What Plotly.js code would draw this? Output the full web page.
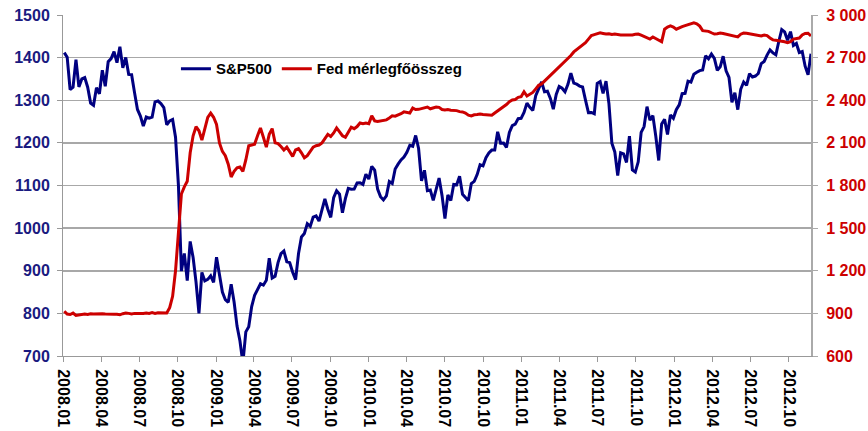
<!DOCTYPE html>
<html>
<head>
<meta charset="utf-8">
<script src="https://cdn.plot.ly/plotly-3.0.1.min.js"></script>
<style>html,body{margin:0;padding:0;background:#fff;}#chart{width:868px;height:431px;}</style>
</head>
<body>
<div id="chart"></div>
<script>
// Weekly observations (Fridays), first week and number of weeks
const firstWeek = '2008-01-04';
const weekCount = 256;

// S&P500 weekly values, by year
const sp2008 = [1411.6,1401.0,1325.2,1330.6,1395.4,1331.3,1350.0,1353.1,1330.6,1293.4,1288.1,1329.5,1315.2,1370.4,1332.8,1390.3,1397.8,1413.9,1388.3,1425.4,1375.9,1400.4,1360.7,1360.0,1317.9,1278.4,1262.9,1239.5,1260.7,1257.8,1260.3,1296.3,1298.2,1292.2,1282.8,1242.3,1251.7,1255.1,1213.3,1099.2,899.2,940.6,876.8,968.8,931.0,873.3,800.0,896.2,876.1,879.7,887.9,872.8];
const sp2009 = [931.8,890.4,850.1,832.0,825.9,868.6,826.8,770.1,735.1,683.4,756.6,768.5,815.9,842.5,856.6,869.6,866.2,877.5,929.2,882.9,887.0,919.1,940.1,946.2,921.2,918.9,896.4,879.1,940.4,979.3,987.5,1010.5,1004.1,1026.1,1028.9,1016.4,1042.7,1068.3,1044.4,1025.2,1071.5,1087.7,1079.6,1036.2,1069.3,1093.5,1091.4,1091.5,1106.0,1106.4,1102.5,1126.5];
const sp2010 = [1115.1,1145.0,1136.0,1091.8,1073.9,1066.2,1075.5,1109.2,1104.5,1138.7,1150.0,1159.9,1166.6,1178.1,1194.4,1192.1,1217.3,1186.7,1110.9,1135.7,1087.7,1089.4,1064.9,1091.6,1117.5,1076.8,1022.6,1078.0,1064.9,1102.7,1101.6,1121.6,1079.3,1071.7,1064.6,1104.5,1109.6,1125.6,1148.7,1146.2,1165.2,1176.2,1183.1,1183.3,1225.9,1199.2,1199.7,1189.4,1224.7,1240.4,1243.9,1256.8,1257.6];
const sp2011 = [1271.5,1293.2,1283.4,1276.3,1310.9,1329.2,1343.0,1319.9,1321.2,1304.3,1279.2,1313.8,1332.4,1328.2,1319.7,1337.4,1363.6,1340.2,1337.8,1333.3,1331.1,1300.2,1271.0,1271.5,1268.5,1339.7,1343.8,1316.1,1345.0,1292.3,1199.4,1178.8,1123.5,1176.8,1174.0,1154.2,1216.0,1136.4,1131.4,1155.5,1224.6,1238.3,1285.1,1253.2,1263.9,1215.7,1158.7,1244.3,1255.2,1219.7,1265.3,1257.6];
const sp2012 = [1277.8,1289.1,1315.4,1316.3,1344.9,1342.6,1361.2,1365.7,1369.6,1370.9,1404.2,1397.1,1408.5,1398.1,1370.3,1378.5,1403.4,1369.1,1353.4,1295.2,1317.8,1278.0,1325.7,1342.8,1335.0,1362.2,1354.7,1356.8,1362.7,1386.0,1391.0,1405.9,1418.2,1411.1,1406.6,1437.9,1465.8,1460.2,1440.7,1460.9,1428.6,1433.2,1411.9,1414.2,1379.9,1359.9,1409.2];

// Fed balance sheet total (mrd USD) weekly values, by year
const fed2008 = [915,895,892,902,885,890,893,895,893,897,895,897,894,897,895,893,895,893,894,890,898,902,900,896,900,898,901,899,903,900,905,900,904,902,905,902,940,1020,1200,1480,1740,1790,1830,2030,2150,2214,2185,2120,2200,2280,2310,2280];
const fed2009 = [2230,2100,2040,2010,1950,1860,1900,1925,1930,1900,1980,2080,2085,2090,2150,2205,2140,2070,2160,2200,2100,2095,2075,2050,2070,2040,2005,2050,2060,2030,1995,2010,2040,2070,2080,2085,2100,2130,2160,2145,2170,2205,2180,2150,2140,2180,2210,2200,2215,2240,2235,2240];
const fed2010 = [2235,2290,2255,2250,2255,2260,2262,2275,2290,2288,2295,2305,2318,2312,2310,2345,2335,2336,2340,2345,2352,2340,2345,2352,2350,2335,2332,2334,2330,2330,2327,2320,2318,2310,2295,2290,2298,2300,2303,2300,2298,2296,2294,2310,2325,2340,2352,2370,2390,2402,2405,2420,2425];
const fed2011 = [2460,2430,2440,2455,2480,2505,2515,2535,2557,2575,2595,2612,2630,2650,2675,2695,2715,2740,2755,2770,2790,2805,2830,2855,2862,2868,2874,2870,2866,2868,2863,2866,2862,2860,2860,2859,2862,2860,2865,2866,2858,2850,2840,2831,2845,2835,2825,2812,2900,2915,2923,2915];
const fed2012 = [2900,2912,2918,2925,2930,2940,2945,2938,2922,2890,2888,2885,2875,2866,2868,2873,2870,2866,2862,2858,2852,2846,2865,2873,2872,2868,2866,2864,2858,2852,2859,2855,2838,2825,2822,2820,2817,2812,2805,2812,2830,2835,2838,2860,2870,2872,2852];

const leftTicks = {min: 700, max: 1500, step: 100};
const rightTicks = {min: 600, max: 3000, step: 300};
const seriesNames = ['S&P500', 'Fed mérlegfőösszeg'];

const spValues = [].concat(sp2008, sp2009, sp2010, sp2011, sp2012);
const fedValues = [].concat(fed2008, fed2009, fed2010, fed2011, fed2012);

const dates = [];
const d0 = new Date(firstWeek + 'T00:00:00Z');
for (let i = 0; i < weekCount; i++) {
  const d = new Date(d0.getTime() + i * 7 * 86400000);
  dates.push(d.toISOString().slice(0, 10));
}

const FONT = '"Liberation Sans", Arial, sans-serif';
const NAVY = '#000080';
const RED = '#cc0000';

const traces = [
  {x: dates, y: spValues, name: seriesNames[0], type: 'scatter', mode: 'lines',
   line: {color: NAVY, width: 3}, yaxis: 'y'},
  {x: dates, y: fedValues, name: seriesNames[1], type: 'scatter', mode: 'lines',
   line: {color: RED, width: 3}, yaxis: 'y2'}
];

const layout = {
  width: 868, height: 431,
  margin: {l: 63, r: 57, t: 15, b: 75, pad: 0},
  paper_bgcolor: '#ffffff', plot_bgcolor: '#ffffff',
  separators: '. ',
  font: {family: FONT, size: 16, color: '#000', weight: 'bold'},
  showlegend: true,
  legend: {orientation: 'h', x: 0.151, y: 0.842, xanchor: 'left', yanchor: 'middle',
           bgcolor: 'rgba(0,0,0,0)', font: {family: FONT, size: 15, color: '#000', weight: 'bold'},
           itemwidth: 30, tracegroupgap: 0},
  xaxis: {type: 'date', range: ['2008-01-01', '2012-11-23'], tick0: '2008-01-01', dtick: 'M3',
          tickformat: '%Y.%m', tickangle: 90, ticks: 'outside', ticklen: 5, tickcolor: '#999',
          showgrid: false, showline: true, linecolor: '#999', linewidth: 1, zeroline: false,
          ticklabelstandoff: 4,
          tickfont: {family: FONT, size: 16, color: '#000', weight: 'bold'}, fixedrange: true},
  yaxis: {range: [leftTicks.min, leftTicks.max], tick0: leftTicks.min, dtick: leftTicks.step,
          ticks: 'outside', ticklen: 5, tickcolor: '#999', showline: true, linecolor: '#999', linewidth: 1,
          showgrid: true, gridcolor: '#a8a8a8', gridwidth: 1.5, zeroline: false,
          ticklabelstandoff: 4,
          tickfont: {family: FONT, size: 16, color: '#1a1a80', weight: 'bold'}},
  yaxis2: {range: [rightTicks.min, rightTicks.max], tick0: rightTicks.min, dtick: rightTicks.step,
           overlaying: 'y', side: 'right', separatethousands: true,
           ticks: 'outside', ticklen: 5, tickcolor: '#aaa', showline: true, linecolor: '#aaa', linewidth: 2,
           showgrid: false, zeroline: false, ticklabelstandoff: 5,
           tickfont: {family: FONT, size: 16, color: RED, weight: 'bold'}}
};

Plotly.newPlot('chart', traces, layout, {staticPlot: true, displayModeBar: false});
</script>
</body>
</html>
